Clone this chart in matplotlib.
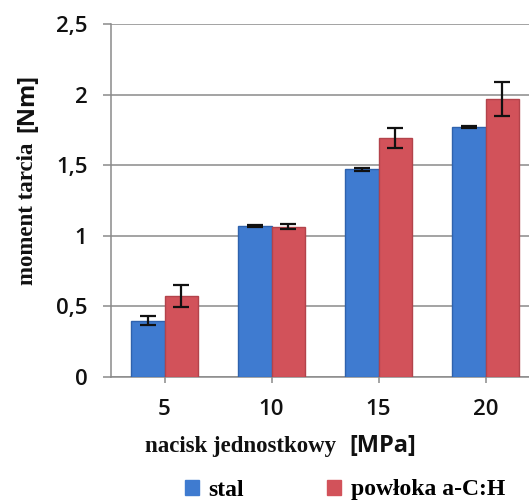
import numpy as np
import matplotlib.pyplot as plt

# nacisk jednostkowy [MPa]
naciski = ['5', '10', '15', '20']
# moment tarcia [Nm]
stal = [0.40, 1.07, 1.47, 1.77]
stal_err = [0.03, 0.01, 0.01, 0.005]
powloka = [0.575, 1.065, 1.69, 1.97]
powloka_err = [0.08, 0.02, 0.07, 0.12]
y_ticks = [0, 0.5, 1, 1.5, 2, 2.5]
y_labels = ['0', '0,5', '1', '1,5', '2', '2,5']

W, H = 529, 503
fig = plt.figure(figsize=(W / 100, H / 100), dpi=100)
ax = fig.add_axes([111 / W, 126 / H, 428 / W, 353 / H])

x = np.arange(len(naciski))
bw = 0.31
ax.bar(x - bw / 2, stal, bw, color='#3f7bd0', edgecolor='#2f62ad', linewidth=1, zorder=3)
ax.bar(x + bw / 2, powloka, bw, color='#d2525a', edgecolor='#b3434b', linewidth=1, zorder=3)
ax.errorbar(x - bw / 2, stal, yerr=stal_err, fmt='none', ecolor='#111111',
            elinewidth=1.6, capsize=6, capthick=1.6, zorder=4)
ax.errorbar(x + bw / 2, powloka, yerr=powloka_err, fmt='none', ecolor='#111111',
            elinewidth=1.6, capsize=6, capthick=1.6, zorder=4)

ax.set_xlim(-0.5, 3.5)
ax.set_ylim(0, 2.5)
ax.set_yticks(y_ticks)
ax.set_yticklabels(y_labels)
ax.set_xticks(x)
ax.set_xticklabels(naciski)
ax.yaxis.grid(True, color='#8a8a8a', linewidth=1.1, zorder=0)
ax.set_axisbelow(True)

for s in ['top', 'right']:
    ax.spines[s].set_visible(False)
for s in ['left', 'bottom']:
    ax.spines[s].set_color('#8a8a8a')
    ax.spines[s].set_linewidth(1.1)

ax.tick_params(axis='y', length=6, width=1.1, color='#8a8a8a', pad=11,
               labelsize=16, labelcolor='#111111')
ax.tick_params(axis='x', length=4, width=1.1, color='#8a8a8a', pad=12,
               labelsize=16, labelcolor='#111111')
for lbl in ax.get_xticklabels() + ax.get_yticklabels():
    lbl.set_fontfamily('Open Sans')
    lbl.set_fontweight('semibold')

# opisy osi: czesc szeryfowa + jednostka bezszeryfowa
serif = dict(family='Liberation Serif', weight='bold', size=16.5, color='#111111')
sans = dict(family='Open Sans', weight='bold', size=17, color='#111111')
fig.text(241 / W, 1 - 452 / H, 'nacisk jednostkowy', ha='center', va='baseline', **serif)
fig.text(349 / W, 1 - 452 / H, '[MPa]', ha='left', va='baseline', **sans)
fig.text(33 / W, 1 - 214 / H, 'moment tarcia', rotation=90, rotation_mode='anchor',
         ha='center', va='baseline', **serif)
fig.text(33 / W, 1 - 103 / H, '[Nm]', rotation=90, rotation_mode='anchor',
         ha='center', va='baseline', **sans)

handles = [plt.Rectangle((0, 0), 1, 1, color='#3f7bd0'),
           plt.Rectangle((0, 0), 1, 1, color='#d2525a')]
fig.legend(handles, ['stal', 'powłoka a-C:H'], loc='center', ncol=2,
           bbox_to_anchor=(345 / W, 1 - 490 / H), frameon=False, borderpad=0,
           handlelength=0.6, handleheight=0.6, handletextpad=0.4, columnspacing=3.5,
           prop=dict(family='Liberation Serif', weight='bold', size=17))

fig.savefig('out.png', dpi=100)
